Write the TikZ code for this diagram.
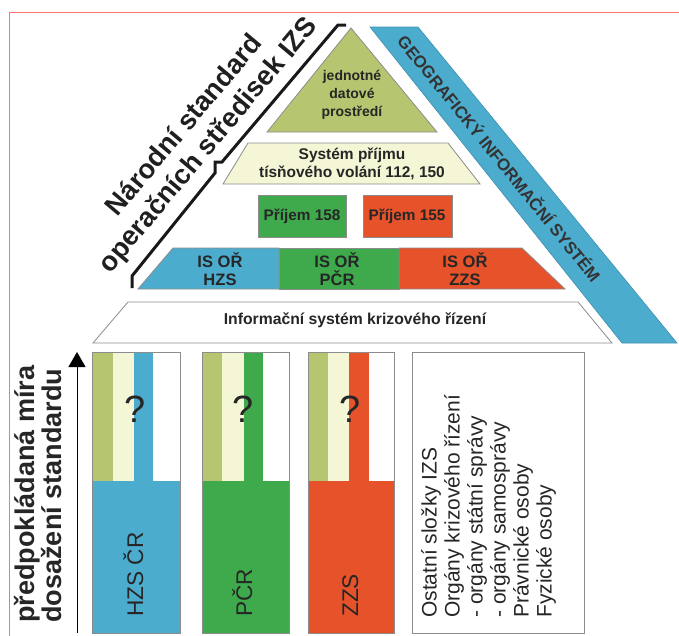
\documentclass[tikz,border=0pt]{standalone}
\usepackage{fontspec}
\setmainfont{Liberation Sans}
\usetikzlibrary{arrows.meta}

\definecolor{izsolive}{RGB}{181,197,112}
\definecolor{izscream}{RGB}{244,246,214}
\definecolor{izsblue}{RGB}{76,172,206}
\definecolor{izsgreen}{RGB}{62,170,76}
\definecolor{izsred}{RGB}{230,82,42}

\newcommand{\fsz}[2]{\fontsize{#1}{#2}\selectfont}

\tikzset{
  shp/.style={draw=black!45, line width=0.6},
  lbl/.style={inner sep=0.75pt, align=center, text=black!85},
}

\begin{document}
\begin{tikzpicture}[x=0.75pt,y=0.75pt,yscale=-1,xscale=1]
%set diagram left start at 0, and has height of 636
\path [use as bounding box] (0,0) rectangle (679,636);

%Straight Lines: frame
\draw [color=red!55!white, line width=0.75] (9,636) -- (9,12) -- (679,12);

%Shape: GIS band
\draw [draw=izsblue!85!black, line width=0.5, fill=izsblue] (370,27) -- (418,27) -- (677,343) -- (622,343) -- cycle;
%Shape: Triangle
\draw [shp, fill=izsolive] (351,28) -- (437,132) -- (267,132) -- cycle;
%Shape: Trapezoid
\draw [shp, fill=izscream] (248,143) -- (448,143) -- (480,184) -- (223,184) -- cycle;
%Shape: Rectangle
\draw [shp, fill=izsgreen] (258,195) rectangle (346,237);
%Shape: Rectangle
\draw [shp, fill=izsred] (363,195) rectangle (452,237);
%Shape: Trapezoid parts
\draw [shp, fill=izsblue] (138,289) -- (173,248) -- (279,248) -- (279,289) -- cycle;
\draw [shp, fill=izsgreen] (279,248) -- (399,248) -- (399,289) -- (279,289) -- cycle;
\draw [shp, fill=izsred] (399,248) -- (522,248) -- (565,289) -- (399,289) -- cycle;
%Shape: Trapezoid
\draw [shp, fill=white] (128,302) -- (578,302) -- (612,343) -- (93,343) -- cycle;

%Straight Lines: bracket
\draw [color=black!90, line width=2.25, line join=miter] (346,25) -- (338,25) -- (222,162) -- (215,162) -- (215,173) -- (132,276) -- (132,288);

%Shape: Column HZS
\fill [izsolive] (92,352) rectangle (113,481);
\fill [izscream] (113,352) rectangle (134,481);
\fill [izsblue] (134,352) rectangle (153,481);
\fill [izsblue] (92,481) rectangle (180,633);
\draw [shp] (92,352) rectangle (180,633);
%Shape: Column PCR
\fill [izsolive] (202,352) rectangle (222,481);
\fill [izscream] (222,352) rectangle (244,481);
\fill [izsgreen] (244,352) rectangle (263,481);
\fill [izsgreen] (202,481) rectangle (289,633);
\draw [shp] (202,352) rectangle (289,633);
%Shape: Column ZZS
\fill [izsolive] (308,352) rectangle (328,481);
\fill [izscream] (328,352) rectangle (349,481);
\fill [izsred] (349,352) rectangle (369,481);
\fill [izsred] (308,481) rectangle (394,633);
\draw [shp] (308,352) rectangle (394,633);
%Shape: Rectangle
\draw [shp] (412,352) rectangle (584,633);

%Straight Lines: arrow
\coordinate (arrbot) at (77,633);
\coordinate (arrtop) at (77,352);
\draw [line width=0.75, -{Triangle[length=11.25pt, width=12.75pt]}] (arrbot) -- (arrtop);

% Text Node
\draw (197,136) node (title) [lbl, rotate=50, text=black!88, font=\fsz{20.5}{23.25}\bfseries] {Národní standard\\operačních středisek IZS};
% Text Node
\draw (500,158) node (gis) [lbl, rotate=-51, text=black!80, font=\fsz{12.6}{15}\bfseries] {GEOGRAFICKÝ INFORMAČNÍ SYSTÉM};
% Text Node
\draw (352,95) node (jdp) [lbl, font=\fsz{10.5}{13.5}\bfseries] {jednotné\\datové\\prostředí};
% Text Node
\draw (352,164) node (prijem) [lbl, font=\fsz{11.6}{12.9}\bfseries] {Systém příjmu\\tísňového volání 112, 150};
% Text Node
\draw (302,216) node (p158) [lbl, font=\fsz{11.5}{13}\bfseries] {Příjem 158};
% Text Node
\draw (407,216) node (p155) [lbl, font=\fsz{11.5}{13}\bfseries] {Příjem 155};
% Text Node
\draw (220,269) node (ishzs) [lbl, font=\fsz{12.4}{13.5}\bfseries] {IS OŘ\\HZS};
% Text Node
\draw (337,269) node (ispcr) [lbl, font=\fsz{12.4}{13.5}\bfseries] {IS OŘ\\PČR};
% Text Node
\draw (465,269) node (iszzs) [lbl, font=\fsz{12.4}{13.5}\bfseries] {IS OŘ\\ZZS};
% Text Node
\draw (355,320) node (iskr) [lbl, font=\fsz{11.8}{13}\bfseries] {Informační systém krizového řízení};

% Text Node
\draw (135,409) node (qhzs) [lbl, font=\fsz{28.5}{30}] {?};
% Text Node
\draw (243,409) node (qpcr) [lbl, font=\fsz{28.5}{30}] {?};
% Text Node
\draw (350,409) node (qzzs) [lbl, font=\fsz{28.5}{30}] {?};
% Text Node
\draw (143,617) node (hzs) [lbl, inner sep=0pt, anchor=base west, rotate=90, font=\fsz{17}{19}] {HZS ČR};
% Text Node
\draw (252,617) node (pcr) [lbl, inner sep=0pt, anchor=base west, rotate=90, font=\fsz{17}{19}] {PČR};
% Text Node
\draw (358,617) node (zzs) [lbl, inner sep=0pt, anchor=base west, rotate=90, font=\fsz{17}{19}] {ZZS};
% Text Node
\draw (421,618) node (ostatni) [lbl, inner sep=0pt, anchor=north west, rotate=90, align=left, font=\fsz{15.75}{17.25}] {Ostatní složky IZS\\Orgány krizového řízení\\ - orgány státní správy\\ - orgány samosprávy\\Právnické osoby\\Fyzické osoby};
% Text Node
\draw (14,623) node (mira) [lbl, inner sep=0pt, anchor=north west, rotate=90, align=left, font=\fsz{20.3}{18}\bfseries] {předpokládaná míra\\dosažení standardu};

\end{tikzpicture}
\end{document}
